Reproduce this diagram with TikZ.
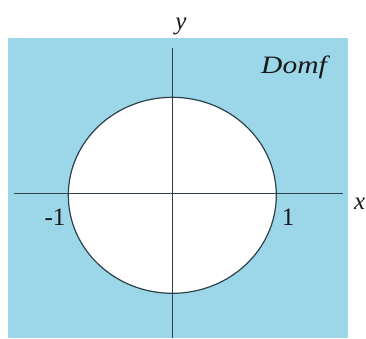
\documentclass[tikz,border=0pt]{standalone}
\usepackage{fontspec}
\setmainfont{Liberation Serif}
\definecolor{dombg}{RGB}{155,215,232}
\definecolor{axcol}{RGB}{45,65,75}
\tikzset{
  axis/.style={draw=axcol, line width=1.2pt},
  lbl/.style={font=\fontsize{25}{27}\selectfont, inner sep=0pt, text=black!90}
}
\begin{document}
\begin{tikzpicture}[x=1pt,y=-1pt]
\useasboundingbox (0,0) rectangle (366,338);
\fill[dombg] (8,38) rectangle (348,338);
\filldraw[fill=white, axis] (172.3,195.3) ellipse [x radius=104, y radius=98];
\coordinate (xl) at (14,193.3);
\coordinate (xr) at (343,193.3);
\coordinate (yt) at (172.3,48);
\coordinate (yb) at (172.3,338);
\draw[axis] (xl) -- (xr);
\draw[axis] (yt) -- (yb);
\node[lbl, anchor=base] (ylab) at (181,29) {\itshape y};
\node[lbl, anchor=base east] (xlab) at (365.5,209) {\itshape x};
\node[lbl, anchor=base] (m1) at (55,225) {-1};
\node[lbl, anchor=base] (p1) at (288,225) {1};
\node[lbl, anchor=base, xscale=1.18] (dom) at (294,73) {\itshape Domf};
\end{tikzpicture}
\end{document}
